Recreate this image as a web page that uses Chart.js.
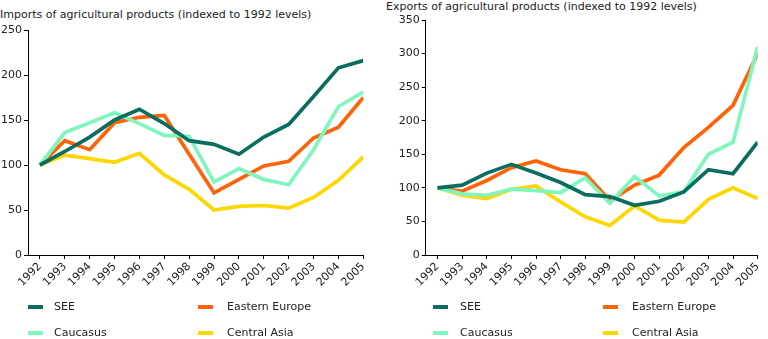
<!DOCTYPE html>
<html>
<head>
<meta charset="utf-8">
<script src="https://cdn.jsdelivr.net/npm/chart.js@4.4.1/dist/chart.umd.min.js"></script>
<style>
  html, body { margin: 0; padding: 0; background: #fff; }
  body { width: 768px; height: 339px; position: relative; overflow: hidden;
         font-family: "DejaVu Sans", Verdana, sans-serif; color: #222; }
  .panel { position: absolute; top: 0; width: 384px; height: 339px; }
  .panel canvas { position: absolute; left: 0; top: 0; }
  .title { position: absolute; font-size: 11px; line-height: 14px; white-space: nowrap; color: #222; }
  .key { position: absolute; font-size: 11px; line-height: 14px; white-space: nowrap; color: #222; }
  .swatch { position: absolute; width: 15px; height: 4px; }
</style>
</head>
<body>
<div class="panel" id="leftPanel" style="left:0">
  <div class="title" style="left:0; top:8px">Imports of agricultural products (indexed to 1992 levels)</div>
  <canvas id="imports" width="384" height="339"></canvas>
</div>
<div class="panel" id="rightPanel" style="left:384px">
  <div class="title" style="left:2px; top:0px">Exports of agricultural products (indexed to 1992 levels)</div>
  <canvas id="exports" width="384" height="339"></canvas>
</div>
<script>
// Years on the horizontal axis
const years = [1992, 1993, 1994, 1995, 1996, 1997, 1998, 1999, 2000, 2001, 2002, 2003, 2004, 2005];

// Regions, their line colours and stacking (lower order is drawn on top)
const regions = ['SEE', 'Eastern Europe', 'Caucasus', 'Central Asia'];
const regionColors = ['#0a6e5e', '#ff6309', '#80f5bd', '#ffd600'];
const regionOrder = [0, 2, 1, 3];

// Imports index (1992 = 100)
const importsSEE      = [100, 115, 131, 150, 162, 146, 127, 123, 112, 131, 145, 176, 208, 216];
const importsEastEu   = [100, 127, 117, 147, 153, 155, 112, 69, 84, 99, 104, 130, 142, 175];
const importsCaucasus = [100, 136, 147, 158, 146, 133, 132, 81, 96, 84, 78, 117, 165, 181];
const importsCentral  = [100, 111, 107, 103, 113, 89, 73, 50, 54, 55, 52, 64, 83, 109];

// Exports index (1992 = 100)
const exportsSEE      = [100, 104, 122, 135, 122, 108, 90, 87, 74, 80, 94, 127, 121, 168];
const exportsEastEu   = [100, 95, 111, 130, 140, 127, 121, 81, 104, 119, 160, 190, 223, 300];
const exportsCaucasus = [100, 91, 89, 98, 96, 93, 115, 77, 117, 88, 94, 150, 168, 310];
const exportsCentral  = [100, 89, 84, 98, 103, 79, 57, 44, 73, 52, 49, 83, 100, 84];

// Vertical axis ticks
const importsTicks = [0, 50, 100, 150, 200, 250];
const exportsTicks = [0, 50, 100, 150, 200, 250, 300, 350];

const FONT = { family: '"DejaVu Sans", Verdana, sans-serif', size: 11 };
const INK = '#222';

function buildDatasets(seriesList) {
  return seriesList.map((vals, i) => ({
    label: regions[i],
    order: regionOrder[i],
    data: years.map((yr, k) => ({ x: yr, y: vals[k] })),
    borderColor: regionColors[i],
    backgroundColor: regionColors[i],
    borderWidth: 3.7,
    pointRadius: 0,
    tension: 0,
    fill: false,
    borderJoinStyle: 'miter'
  }));
}

function makeChart(canvasId, seriesList, yTicks, pad, yAxisWidth) {
  const yMax = yTicks[yTicks.length - 1];
  return new Chart(document.getElementById(canvasId), {
    type: 'line',
    data: { datasets: buildDatasets(seriesList) },
    options: {
      responsive: false,
      animation: false,
      layout: { padding: pad },
      plugins: { legend: { display: false }, title: { display: false }, tooltip: { enabled: false } },
      scales: {
        x: {
          type: 'linear',
          min: 1991.52,
          max: 2005,
          afterBuildTicks: (scale) => {
            scale.ticks = years.map(v => ({ value: v }));
          },
          afterFit: (scale) => { scale.height = 45; },
          ticks: {
            stepSize: 1,
            autoSkip: false,
            minRotation: 45,
            maxRotation: 45,
            padding: 1,
            color: INK,
            font: FONT,
            callback: (v) => String(v)
          },
          grid: { display: true, drawOnChartArea: false, drawTicks: true, tickLength: 4, color: '#000' },
          border: { display: true, color: '#000', width: 1 }
        },
        y: {
          min: 0,
          max: yMax,
          afterBuildTicks: (scale) => {
            scale.ticks = yTicks.map(v => ({ value: v }));
          },
          afterFit: (scale) => { scale.width = yAxisWidth; },
          ticks: { padding: 2, color: INK, font: FONT },
          grid: { display: true, drawOnChartArea: false, drawTicks: true, tickLength: 4, color: '#000' },
          border: { display: true, color: '#000', width: 1 }
        }
      }
    }
  });
}

makeChart('imports',
  [importsSEE, importsEastEu, importsCaucasus, importsCentral],
  importsTicks,
  { top: 30, left: 0, right: 20.7, bottom: 339 - 255 - 45 },
  28);

makeChart('exports',
  [exportsSEE, exportsEastEu, exportsCaucasus, exportsCentral],
  exportsTicks,
  { top: 20, left: 0, right: 8, bottom: 339 - 255 - 45 },
  41.7);

// Two-column legend under each chart
function addLegend(panelId, swatchX, textX) {
  const panel = document.getElementById(panelId);
  const rowsY = [307, 333];
  regions.forEach((name, i) => {
    const col = i % 2, row = Math.floor(i / 2);
    const sw = document.createElement('div');
    sw.className = 'swatch';
    sw.style.left = swatchX[col] + 'px';
    sw.style.top = (rowsY[row] - 2) + 'px';
    sw.style.background = regionColors[i];
    panel.appendChild(sw);
    const t = document.createElement('div');
    t.className = 'key';
    t.textContent = name;
    t.style.left = textX[col] + 'px';
    t.style.top = (rowsY[row] - 7) + 'px';
    panel.appendChild(t);
  });
}
addLegend('leftPanel', [28, 198], [54, 227]);
addLegend('rightPanel', [49, 219], [76, 248]);
</script>
</body>
</html>
